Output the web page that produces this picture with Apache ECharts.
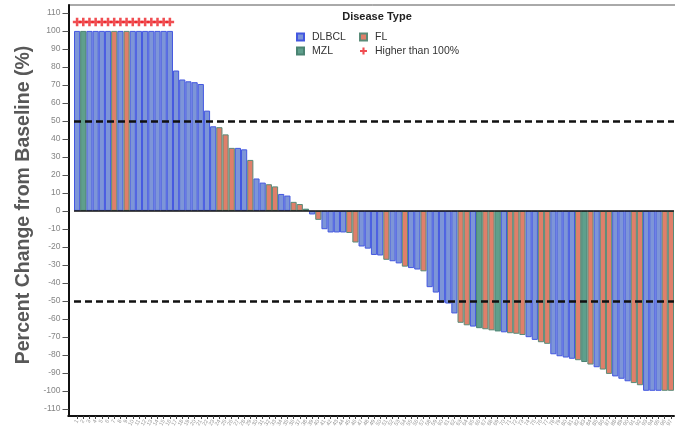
<!DOCTYPE html>
<html>
<head>
<meta charset="utf-8">
<script src="https://cdn.jsdelivr.net/npm/echarts@6/dist/echarts.min.js"></script>
<style>
  html, body { margin: 0; padding: 0; background: #fff; }
  #chart { width: 675px; height: 431px; }
</style>
</head>
<body>
<div id="chart"></div>
<script>
// Patient identifiers along the x axis
const patients = [
  '1','2','3','4','5','6','7','8','9','10','11','12','13','14','15','16','17','18','19','20',
  '21','22','23','24','25','26','27','28','29','30','31','32','33','34','35','36','37','38','39','40',
  '41','42','43','44','45','46','47','48','49','50','51','52','53','54','55','56','57','58','59','60',
  '61','62','63','64','65','66','67','68','69','70','71','72','73','74','75','76','77','78','79','80',
  '81','82','83','84','85','86','87','88','89','90','91','92','93','94','95','96','97'
];

// Best percent change from baseline per patient (capped at 100)
const pctChange = [
  100, 100, 100, 100, 100, 100, 100, 100, 100, 100, 100, 100, 100, 100, 100, 100,
  78, 73, 72, 71.5, 70.5, 55.7, 47, 46.5, 42.5, 35, 35, 34.2, 28.3, 18,
  15.7, 14.8, 13.6, 9.4, 8.5, 5, 3.8, 1.2,
  -2, -5, -10.2, -12, -12, -12, -12.3, -17.6, -19.8, -21,
  -24.5, -24.8, -27.2, -28, -29.2, -31, -31.8, -32.6, -33.6, -42.4,
  -45.4, -51, -51.5, -57, -62.2, -63.6, -64.3, -65.2, -65.8, -66.4,
  -67, -67.5, -68, -68.3, -69, -70.2, -71.7, -73, -73.9, -79.7,
  -80.8, -81.5, -82.2, -83, -84, -85.4, -86.9, -88.2, -90.6, -92,
  -93.3, -94.7, -95.7, -96.9, -100, -100, -100, -100, -100
];

// Disease type per patient
const diseaseType = [
  'DLBCL','MZL','DLBCL','DLBCL','DLBCL','DLBCL','FL','DLBCL','FL','DLBCL',
  'DLBCL','DLBCL','DLBCL','DLBCL','DLBCL','DLBCL','DLBCL','DLBCL','DLBCL','DLBCL',
  'DLBCL','DLBCL','DLBCL','FL','FL','FL','DLBCL','DLBCL','FL','DLBCL',
  'DLBCL','FL','FL','DLBCL','DLBCL','FL','FL','MZL','DLBCL','FL',
  'DLBCL','DLBCL','DLBCL','DLBCL','FL','FL','DLBCL','DLBCL','DLBCL','DLBCL',
  'FL','DLBCL','DLBCL','FL','DLBCL','DLBCL','FL','DLBCL','DLBCL','DLBCL',
  'DLBCL','DLBCL','FL','FL','DLBCL','MZL','FL','FL','MZL','DLBCL',
  'FL','FL','FL','DLBCL','DLBCL','FL','FL','DLBCL','DLBCL','DLBCL',
  'DLBCL','FL','MZL','FL','DLBCL','FL','FL','DLBCL','DLBCL','DLBCL',
  'FL','FL','DLBCL','DLBCL','DLBCL','FL','FL'
];

// Patients whose actual change exceeded 100%
const higherThan100 = ['1','2','3','4','5','6','7','8','9','10','11','12','13','14','15','16'];
const overflowMarkerLevel = [105];

// Axis ticks and reference thresholds
const yTickValues = [-110,-100,-90,-80,-70,-60,-50,-40,-30,-20,-10,0,10,20,30,40,50,60,70,80,90,100,110];
const thresholdLines = [50, -50];

const typeStyles = {
  DLBCL: { color: '#7d95d8', borderColor: '#4357e0' },
  FL:    { color: '#df7f6a', borderColor: '#5a8b78' },
  MZL:   { color: '#5f9f8c', borderColor: '#4a8372' }
};
const typeOrder = ['DLBCL', 'FL', 'MZL'];

const FONT = '"Liberation Sans", Arial, Helvetica, sans-serif';

const barSeries = typeOrder.map(function (t, k) {
  const s = {
    name: t,
    type: 'bar',
    stack: 'response',
    barWidth: '100%',
    data: pctChange.map(function (v, i) { return diseaseType[i] === t ? v : '-'; }),
    itemStyle: {
      color: typeStyles[t].color,
      borderColor: typeStyles[t].borderColor,
      borderWidth: 1
    },
    emphasis: { disabled: true }
  };
  if (k === 0) {
    s.markLine = {
      silent: true,
      symbol: ['none', 'none'],
      label: { show: false },
      data: thresholdLines.map(function (v) {
        return { yAxis: v, lineStyle: { color: '#111', width: 2.5, type: [7, 4] } };
      }).concat([{ yAxis: 0, lineStyle: { color: '#111', width: 1.5, type: 'solid' } }])
    };
  }
  return s;
});

const plusPath = 'path://M3.5,0 L6.5,0 L6.5,3.5 L10,3.5 L10,6.5 L6.5,6.5 L6.5,10 L3.5,10 L3.5,6.5 L0,6.5 L0,3.5 L3.5,3.5 Z';

const overflowSeries = {
  name: 'Higher than 100%',
  type: 'scatter',
  symbol: plusPath,
  symbolSize: 8.5,
  itemStyle: { color: '#ec2227' },
  data: higherThan100.map(function (p) { return [p, overflowMarkerLevel[0]]; }),
  z: 5,
  emphasis: { disabled: true }
};

const legendBase = {
  orient: 'vertical',
  top: 26,
  itemWidth: 7, itemHeight: 7, itemGap: 2,
  textStyle: { fontSize: 10.5, color: '#333', fontFamily: FONT, lineHeight: 12, padding: [0, 0, 0, 3] },
  selectedMode: false
};

const chart = echarts.init(document.getElementById('chart'), null, { renderer: 'canvas' });

chart.setOption({
  animation: false,
  backgroundColor: '#ffffff',
  grid: { left: 74, top: 5, width: 601.5, height: 411, containLabel: false },
  xAxis: {
    type: 'category',
    data: patients,
    boundaryGap: true,
    axisLine: { show: true, onZero: false, lineStyle: { color: '#111', width: 2 } },
    axisTick: { show: true, alignWithLabel: true, length: 3, lineStyle: { color: '#444', width: 1 } },
    axisLabel: { interval: 0, rotate: 60, fontSize: 5.5, color: '#999', margin: 4, fontFamily: FONT },
    splitLine: { show: false }
  },
  yAxis: {
    type: 'value',
    min: -114,
    max: 114.4,
    offset: 5.5,
    axisLine: { show: true, lineStyle: { color: '#111', width: 2 } },
    axisTick: { show: true, length: 6, customValues: yTickValues, lineStyle: { color: '#555', width: 1 } },
    axisLabel: { customValues: yTickValues, fontSize: 8.5, color: '#858585', margin: 8, fontFamily: FONT },
    splitLine: { show: false }
  },
  legend: [
    Object.assign({}, legendBase, {
      left: 291,
      data: [{ name: 'DLBCL', icon: 'rect' }, { name: 'MZL', icon: 'rect' }]
    }),
    Object.assign({}, legendBase, {
      left: 354,
      data: [{ name: 'FL', icon: 'rect' }, { name: 'Higher than 100%' }]
    })
  ],
  graphic: [
    {
      type: 'text', x: 377, y: 17, silent: true,
      style: { text: 'Disease Type', font: 'bold 11px ' + FONT, fill: '#222', align: 'center', verticalAlign: 'middle' }
    },
    {
      type: 'text', x: 24, y: 205, rotation: Math.PI / 2, silent: true,
      style: { text: 'Percent Change from Baseline (%)', font: 'bold 19.5px ' + FONT, fill: '#585858', align: 'center', verticalAlign: 'middle' }
    },
    {
      type: 'line', silent: true,
      shape: { x1: 68.5, y1: 5, x2: 676, y2: 5 },
      style: { stroke: '#555', lineWidth: 1 }
    },
    {
      type: 'line', silent: true,
      shape: { x1: 67.5, y1: 416, x2: 75, y2: 416 },
      style: { stroke: '#111', lineWidth: 2 }
    }
  ],
  series: barSeries.concat([overflowSeries])
});
</script>
</body>
</html>
